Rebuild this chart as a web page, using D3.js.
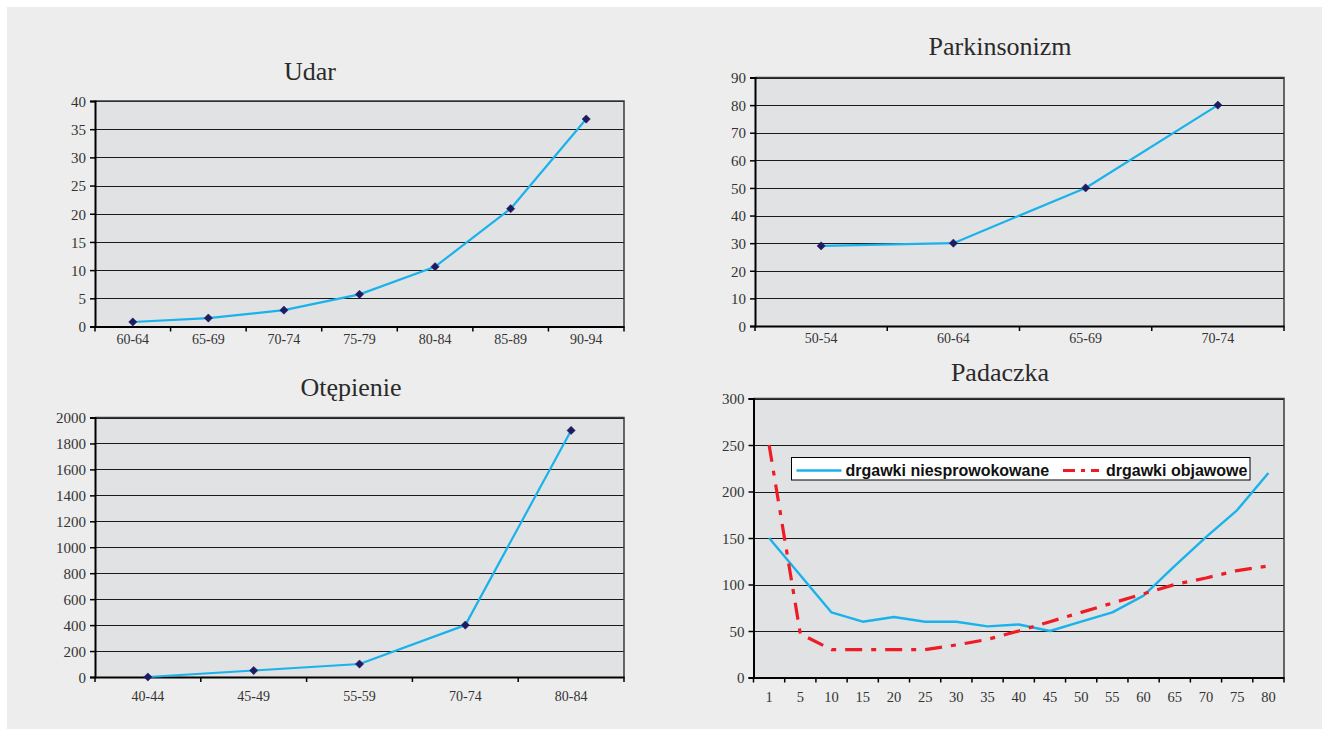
<!DOCTYPE html>
<html>
<head>
<meta charset="utf-8">
<script src="https://cdn.jsdelivr.net/npm/d3@7"></script>
<style>
  html, body { margin: 0; padding: 0; background: #ffffff; }
  svg { display: block; }
  .tick text { font-family: "Liberation Serif", "Times New Roman", serif; fill: #333; }
</style>
</head>
<body>
<svg id="chart" width="1329" height="736"></svg>
<script>
// ---------- DATA ----------
const udarCategories = ["60-64", "65-69", "70-74", "75-79", "80-84", "85-89", "90-94"];
const udarValues = [0.8, 1.5, 2.9, 5.7, 10.6, 20.9, 36.8];
const udarTicks = [0, 5, 10, 15, 20, 25, 30, 35, 40];

const parkCategories = ["50-54", "60-64", "65-69", "70-74"];
const parkValues = [29, 30, 50, 80];
const parkTicks = [0, 10, 20, 30, 40, 50, 60, 70, 80, 90];

const otepCategories = ["40-44", "45-49", "55-59", "70-74", "80-84"];
const otepValues = [0, 50, 100, 400, 1900];
const otepTicks = [0, 200, 400, 600, 800, 1000, 1200, 1400, 1600, 1800, 2000];

const padCategories = ["1", "5", "10", "15", "20", "25", "30", "35", "40", "45", "50", "55", "60", "65", "70", "75", "80"];
const padNiesprowokowane = [150, 110, 70, 60, 65, 60, 60, 55, 57, 50, 60, 70, 88, 120, 151, 180, 220];
const padObjawowe = [250, 47, 30, 30, 30, 30, 35, 41, 50, 60, 70, 80, 90, 100, 107, 115, 120];
const padTicks = [0, 50, 100, 150, 200, 250, 300];
const padSeriesNames = ["drgawki niesprowokowane", "drgawki objawowe"];

// ---------- STYLE ----------
const BLUE = "#1ab2ea";
const RED = "#ee1c25";
const MARKER = "#1f1b62";
const PLOT_BG = "#e1e2e4";
const PAGE_BG = "#ededed";

const svg = d3.select("#chart");
svg.append("rect").attr("x", 7).attr("y", 7).attr("width", 1315).attr("height", 722).attr("fill", PAGE_BG);

function drawPanel(cfg) {
  const g = svg.append("g");
  const x = d3.scaleBand().domain(cfg.categories).range([cfg.x0, cfg.x1]).padding(0);
  const y = d3.scaleLinear().domain([cfg.ticks[0], cfg.ticks[cfg.ticks.length - 1]]).range([cfg.y1, cfg.y0]);

  g.append("rect").attr("x", cfg.x0).attr("y", cfg.y0)
    .attr("width", cfg.x1 - cfg.x0).attr("height", cfg.y1 - cfg.y0)
    .attr("fill", PLOT_BG);

  g.append("g").selectAll("line").data(cfg.ticks.slice(1)).join("line")
    .attr("x1", cfg.x0).attr("x2", cfg.x1)
    .attr("y1", d => Math.round(y(d)) + 0.5).attr("y2", d => Math.round(y(d)) + 0.5)
    .attr("stroke", "#1a1a1a").attr("stroke-width", 1);

  g.append("path")
    .attr("d", `M${cfg.x0},${cfg.y0}H${cfg.x1}V${cfg.y1}`)
    .attr("fill", "none").attr("stroke", "#3a3a3a").attr("stroke-width", 1.5);

  const ya = g.append("g").attr("transform", `translate(${cfg.x0},0)`)
    .call(d3.axisLeft(y).tickValues(cfg.ticks).tickSize(5).tickPadding(4).tickFormat(d3.format("d")));
  ya.select(".domain").attr("stroke", "#000").attr("stroke-width", 2);
  ya.selectAll(".tick line").attr("stroke", "#000").attr("stroke-width", 1.5);
  ya.selectAll(".tick text").attr("font-size", cfg.yFont + "px").attr("dy", "0.35em");

  const xa = g.append("g").attr("transform", `translate(0,${cfg.y1})`)
    .call(d3.axisBottom(x).tickSize(0).tickPadding(cfg.xPad));
  xa.select(".domain").attr("stroke", "#000").attr("stroke-width", 2);
  xa.selectAll(".tick text").attr("font-size", cfg.xFont + "px").attr("dy", "0");
  const bounds = cfg.categories.map(c => x(c)).concat([cfg.x1]);
  g.append("g").selectAll("line").data(bounds).join("line")
    .attr("x1", d => d).attr("x2", d => d)
    .attr("y1", cfg.y1).attr("y2", cfg.y1 + 5)
    .attr("stroke", "#000").attr("stroke-width", 1.5);

  cfg.series.forEach(s => {
    const line = d3.line().x((d, i) => x(cfg.categories[i]) + x.bandwidth() / 2).y(d => y(d));
    g.append("path").datum(s.values).attr("d", line)
      .attr("fill", "none").attr("stroke", s.color).attr("stroke-width", s.width)
      .attr("stroke-dasharray", s.dash || null).attr("stroke-linejoin", "round");
    if (s.markers) {
      g.append("g").selectAll("path").data(s.values).join("path")
        .attr("d", d3.symbol().type(d3.symbolSquare).size(34))
        .attr("transform", (d, i) => `translate(${x(cfg.categories[i]) + x.bandwidth() / 2},${y(d)}) rotate(45)`)
        .attr("fill", MARKER).attr("stroke", MARKER).attr("stroke-width", 0.5);
    }
  });

  svg.append("text").attr("x", cfg.titleX).attr("y", cfg.titleY)
    .attr("text-anchor", "middle")
    .attr("font-family", "'Liberation Serif', 'Times New Roman', serif")
    .attr("font-size", "26px").attr("fill", "#2a2a2a")
    .text(cfg.title);
  return { x, y, g };
}

drawPanel({
  title: "Udar", titleX: 310, titleY: 80,
  categories: udarCategories, ticks: udarTicks,
  x0: 95, x1: 624, y0: 101, y1: 326.5,
  yFont: 15, xFont: 14, xPad: 17,
  series: [{ values: udarValues, color: BLUE, width: 2.2, markers: true }]
});

drawPanel({
  title: "Parkinsonizm", titleX: 1000, titleY: 55,
  categories: parkCategories, ticks: parkTicks,
  x0: 755, x1: 1284, y0: 77.5, y1: 326,
  yFont: 15, xFont: 14, xPad: 17,
  series: [{ values: parkValues, color: BLUE, width: 2.2, markers: true }]
});

drawPanel({
  title: "Otępienie", titleX: 351, titleY: 396,
  categories: otepCategories, ticks: otepTicks,
  x0: 95, x1: 624, y0: 417.5, y1: 677,
  yFont: 15, xFont: 14, xPad: 24,
  series: [{ values: otepValues, color: BLUE, width: 2.2, markers: true }]
});

drawPanel({
  title: "Padaczka", titleX: 1000, titleY: 381,
  categories: padCategories, ticks: padTicks,
  x0: 753.5, x1: 1284, y0: 398.5, y1: 677.5,
  yFont: 15, xFont: 14.5, xPad: 24,
  series: [
    { values: padNiesprowokowane, color: BLUE, width: 2.4 },
    { values: padObjawowe, color: RED, width: 3.2, dash: "17,9,5,9" }
  ]
});

const lg = svg.append("g");
lg.append("rect").attr("x", 791.5).attr("y", 457.5).attr("width", 458.5).attr("height", 22.5)
  .attr("fill", "#fff").attr("stroke", "#000").attr("stroke-width", 1);
lg.append("line").attr("x1", 796.5).attr("x2", 841.5).attr("y1", 470.5).attr("y2", 470.5)
  .attr("stroke", BLUE).attr("stroke-width", 2.4);
lg.append("text").attr("x", 845.5).attr("y", 476).attr("font-family", "'Liberation Sans', Arial, sans-serif")
  .attr("font-weight", "bold").attr("font-size", "16px").attr("fill", "#111").text(padSeriesNames[0]);
lg.append("line").attr("x1", 1063).attr("x2", 1099).attr("y1", 470.5).attr("y2", 470.5)
  .attr("stroke", RED).attr("stroke-width", 3.2).attr("stroke-dasharray", "12,6,4,6");
lg.append("text").attr("x", 1106).attr("y", 476).attr("font-family", "'Liberation Sans', Arial, sans-serif")
  .attr("font-weight", "bold").attr("font-size", "16px").attr("fill", "#111").text(padSeriesNames[1]);
</script>
</body>
</html>
